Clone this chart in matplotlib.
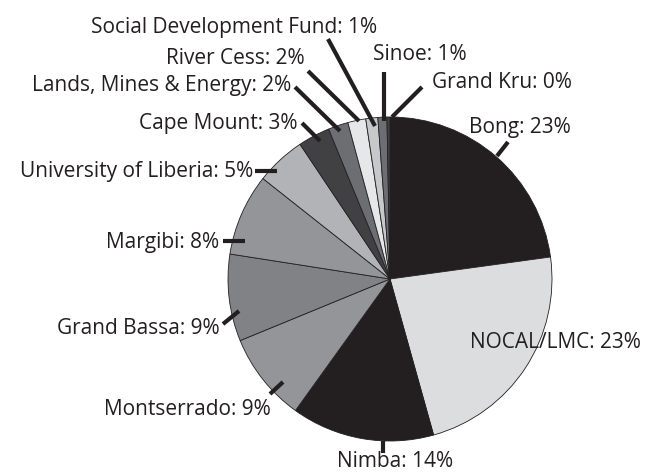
import matplotlib.pyplot as plt

# slice data, clockwise from 12 o'clock
names = ["Bong", "NOCAL/LMC", "Nimba", "Montserrado", "Grand Bassa", "Margibi",
         "University of Liberia", "Cape Mount", "Lands, Mines & Energy",
         "River Cess", "Social Development Fund", "Sinoe", "Grand Kru"]
shares = [22.9, 22.9, 14.3, 8.9, 8.7, 8.2, 5.0, 3.2, 2.0, 1.8, 1.2, 0.9, 0.3]
pct_labels = [23, 23, 14, 9, 9, 8, 5, 3, 2, 2, 1, 1, 0]
colors = ["#231f20", "#dcddde", "#231f20", "#939598", "#808285", "#939598",
          "#b1b3b6", "#414042", "#6d6e71", "#e6e7e8", "#c7c8ca", "#6d6e71", "#414042"]

H = 477
ink = "#231f20"

fig = plt.figure(figsize=(6.52, 4.77), dpi=100)
ax = fig.add_axes([0, 0, 1, 1])
ax.set_xlim(0, 652)
ax.set_ylim(0, H)
ax.set_aspect("equal")
ax.axis("off")

ax.pie(shares, colors=colors, startangle=90, counterclock=False,
       center=(390, H - 280), radius=162,
       wedgeprops=dict(edgecolor=ink, linewidth=0.6))
ax.set_xlim(0, 652)
ax.set_ylim(0, H)

# label placement in pixel coords: (x, y, ha)
text_pos = {
    "Bong": (469, 127, "left"),
    "NOCAL/LMC": (470, 343, "left"),
    "Nimba": (395, 462, "center"),
    "Montserrado": (271, 410, "right"),
    "Grand Bassa": (220, 329, "right"),
    "Margibi": (219, 243, "right"),
    "University of Liberia": (253, 172, "right"),
    "Cape Mount": (297, 123, "right"),
    "Lands, Mines & Energy": (291, 85, "right"),
    "River Cess": (305, 59, "right"),
    "Social Development Fund": (377, 27, "right"),
    "Sinoe": (373, 54, "left"),
    "Grand Kru": (432, 82, "left"),
}
# leader lines (x0, y0, x1, y1) in pixel coords
leaders = {
    "Bong": (508, 143, 497, 157),
    "Nimba": (383, 442, 383, 454),
    "Montserrado": (270, 395, 283, 383),
    "Grand Bassa": (223, 325, 239, 312),
    "Margibi": (223, 242, 245, 242),
    "University of Liberia": (255, 172, 277, 172),
    "Cape Mount": (302, 124, 320, 142),
    "Lands, Mines & Energy": (295, 88, 340, 132),
    "River Cess": (308, 72, 359, 122),
    "Social Development Fund": (328, 40, 375, 127),
    "Sinoe": (384, 73, 384, 122),
    "Grand Kru": (422, 88, 392, 118),
}

for name, pct in zip(names, pct_labels):
    x, y, ha = text_pos[name]
    ax.text(x, H - y, f"{name}: {pct}%", ha=ha, va="center",
            fontsize=15, family="Open Sans", color=ink)
    if name in leaders:
        x0, y0, x1, y1 = leaders[name]
        ax.plot([x0, x1], [H - y0, H - y1], color=ink, lw=3,
                solid_capstyle="butt")

fig.savefig("out.png", dpi=100)
